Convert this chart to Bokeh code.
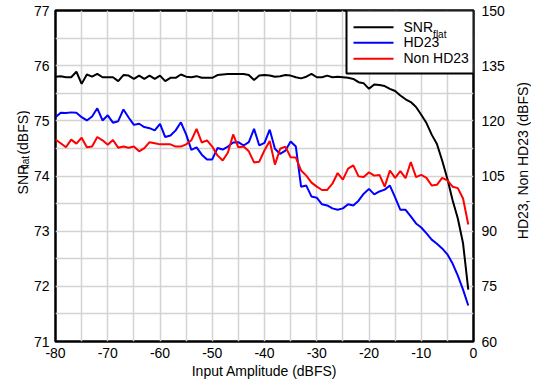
from math import pi

from bokeh.core.properties import value
from bokeh.embed import file_html
from bokeh.layouts import row
from bokeh.resources import INLINE
from bokeh.plotting import figure
from bokeh.models import Range1d, LinearAxis, FixedTicker, ColumnDataSource

# Input amplitude sweep (dBFS)
amplitude = list(range(-80, 0))

# SNR flat (dBFS), left axis
snr_flat = [
    75.80, 75.81, 75.79, 75.79, 75.89, 75.67, 75.84, 75.80, 75.85, 75.79,
    75.79, 75.79, 75.72, 75.83, 75.82, 75.76, 75.82, 75.76, 75.82, 75.76,
    75.82, 75.72, 75.78, 75.78, 75.84, 75.80, 75.79, 75.81, 75.78, 75.78,
    75.78, 75.83, 75.84, 75.85, 75.85, 75.85, 75.85, 75.83, 75.74, 75.82,
    75.83, 75.82, 75.80, 75.81, 75.83, 75.82, 75.79, 75.77, 75.80, 75.85,
    75.79, 75.79, 75.82, 75.79, 75.80, 75.79, 75.78, 75.76, 75.70, 75.68,
    75.58, 75.66, 75.65, 75.63, 75.58, 75.54, 75.46, 75.39, 75.34, 75.25,
    75.11, 74.96, 74.75, 74.58, 74.28, 73.95, 73.56, 73.23, 72.78, 71.94,
]

# HD23 (dBFS), right axis
hd23 = [
    121.0, 122.2, 122.1, 122.3, 122.2, 121.0, 120.1, 121.2, 123.4, 120.1,
    121.5, 119.5, 119.9, 123.1, 120.9, 118.9, 119.2, 118.3, 118.0, 117.4,
    119.2, 115.6, 116.0, 117.4, 119.6, 116.3, 112.1, 112.8, 110.8, 109.5,
    109.5, 112.6, 112.2, 113.0, 114.1, 114.2, 113.3, 114.2, 117.8, 113.3,
    114.0, 117.6, 112.4, 111.0, 111.9, 114.4, 113.0, 102.1, 102.4, 99.4,
    99.1, 97.3, 97.0, 96.2, 95.8, 96.2, 97.3, 97.0, 98.3, 100.2,
    101.5, 100.0, 100.8, 101.3, 102.4, 99.2, 95.8, 95.8, 94.0, 92.1,
    91.0, 89.4, 87.7, 86.6, 85.3, 83.7, 81.2, 77.9, 74.1, 69.8,
]

# Non HD23 (dBFS), right axis
non_hd23 = [
    114.9, 113.9, 112.8, 114.9, 113.8, 115.4, 112.8, 113.0, 115.6, 114.7,
    113.5, 114.8, 112.7, 113.0, 112.7, 113.0, 111.7, 112.6, 114.2, 113.9,
    113.6, 113.6, 113.6, 113.0, 113.0, 113.6, 114.7, 117.8, 114.1, 114.7,
    113.0, 110.6, 109.2, 111.4, 116.3, 112.8, 113.0, 111.7, 108.7, 108.9,
    112.0, 114.5, 108.1, 112.4, 113.0, 110.1, 110.0, 106.5, 105.1, 103.2,
    102.1, 101.2, 101.2, 102.9, 105.8, 104.0, 107.0, 107.9, 104.9, 104.7,
    106.0, 105.1, 105.3, 102.1, 106.5, 104.5, 106.3, 104.4, 108.8, 104.7,
    105.3, 104.5, 102.4, 102.6, 104.5, 103.8, 102.1, 101.7, 98.9, 91.8,
]

# Axis ticks and labels
x_ticks = [-80, -70, -60, -50, -40, -30, -20, -10, 0]
x_tick_labels = ["-80", "-70", "-60", "-50", "-40", "-30", "-20", "-10", "0"]
left_ticks = [71, 72, 73, 74, 75, 76, 77]
right_ticks = [60, 75, 90, 105, 120, 135, 150]

# Legend entries
legend_labels = ["SNR", "HD23", "Non HD23"]
legend_colors = ["black", "#0000ff", "#ff0000"]

FONT = "Liberation Sans"
H = 387
ROW_OFFSET = 2                      # the row sits a couple of pixels in from the page edge
LEFT_W, MAIN_W, RIGHT_W = 30, 479, 22

# frame geometry in page pixels
FX0, FX1, FY0, FY1 = 57, 475, 10, 341
X0, X1, Y0, Y1 = -80, 0, 71, 77


def title_strip(width):
    """Narrow figure whose data units are pixels, used for rotated axis titles."""
    f = figure(width=width, height=H, output_backend="svg", toolbar_location=None,
               x_range=Range1d(0, width), y_range=Range1d(0, H),
               x_axis_type=None, y_axis_type=None, min_border=0)
    f.outline_line_color = None
    f.grid.visible = False
    f.background_fill_color = "white"
    f.border_fill_color = "white"
    return f


src = ColumnDataSource(dict(x=amplitude, snr=snr_flat, hd=hd23, nhd=non_hd23))

main_left = ROW_OFFSET + LEFT_W
p = figure(width=MAIN_W, height=H, output_backend="svg", toolbar_location=None,
           x_range=Range1d(X0, X1), y_range=Range1d(Y0, Y1),
           min_border_left=FX0 - main_left,
           min_border_right=main_left + MAIN_W - FX1,
           min_border_top=FY0, min_border_bottom=H - FY1)
p.extra_y_ranges = {"hd": Range1d(60, 150)}

p.outline_line_color = "black"
p.outline_line_width = 2.5
p.background_fill_color = "white"
p.border_fill_color = "white"

# grid: 5 dB vertical, 0.5 dB horizontal
p.xgrid.ticker = FixedTicker(ticks=list(range(-80, 1, 5)))
p.ygrid.ticker = FixedTicker(ticks=[71 + 0.5 * i for i in range(13)])
for g in (p.xgrid, p.ygrid):
    g.grid_line_color = "#d3d3d3"
    g.grid_line_width = 1.5

right_axis = LinearAxis(y_range_name="hd")
p.add_layout(right_axis, "right")

p.xaxis.ticker = FixedTicker(ticks=x_ticks)
p.xaxis.major_label_overrides = dict(zip(x_ticks, x_tick_labels))
p.yaxis[0].ticker = FixedTicker(ticks=left_ticks)
right_axis.ticker = FixedTicker(ticks=right_ticks)

for ax in (p.xaxis[0], p.yaxis[0], right_axis):
    ax.axis_line_color = None
    ax.major_tick_line_color = None
    ax.minor_tick_line_color = None
    ax.major_tick_out = 0
    ax.major_tick_in = 0
    ax.minor_tick_out = 0
    ax.minor_tick_in = 0
    ax.major_label_text_font = FONT
    ax.major_label_text_font_size = "14px"
    ax.major_label_text_color = "black"
    ax.axis_label_text_font = FONT
    ax.axis_label_text_font_size = "14px"
    ax.axis_label_text_font_style = "normal"
    ax.axis_label_text_color = "black"

p.xaxis.major_label_standoff = 6
p.xaxis.axis_label = "Input Amplitude (dBFS)"
p.xaxis.axis_label_standoff = 2
p.yaxis[0].major_label_standoff = 6
right_axis.major_label_standoff = 8

p.line("x", "snr", source=src, line_color=legend_colors[0], line_width=2)
p.line("x", "hd", source=src, line_color=legend_colors[1], line_width=2, y_range_name="hd")
p.line("x", "nhd", source=src, line_color=legend_colors[2], line_width=2, y_range_name="hd")


# page pixel -> data helpers for the legend box in the top-right corner
def px_to_x(px):
    return X0 + (px - FX0) * (X1 - X0) / (FX1 - FX0)


def px_to_y(py):
    return Y1 - (py - FY0) * (Y1 - Y0) / (FY1 - FY0)


row_y = [26.7, 42.3, 58.3]
p.quad(left=[px_to_x(348)], right=[px_to_x(FX1)], top=[px_to_y(FY0)],
       bottom=[px_to_y(73)], fill_color="white", line_color="black", line_width=2)
p.segment(x0=[px_to_x(355)] * 3, x1=[px_to_x(395)] * 3,
          y0=[px_to_y(v) for v in row_y], y1=[px_to_y(v) for v in row_y],
          line_color=legend_colors, line_width=2)
p.text(x=[px_to_x(405)] * 3, y=[px_to_y(v - 0.5) for v in row_y], text=legend_labels,
       text_font=value(FONT), text_font_size="14px", text_color="black",
       text_align="left", text_baseline="middle")
p.text(x=[px_to_x(434.6)], y=[px_to_y(34)], text=["flat"], text_font=value(FONT),
       text_font_size="10px", text_color="black", text_align="left",
       text_baseline="alphabetic")

# left axis title: SNR with subscript "flat", rotated to read upward
left = title_strip(LEFT_W)
lx = 24 - ROW_OFFSET
left.text(x=[lx], y=[H - 215], text=["SNR"], angle=pi / 2, text_font=value(FONT),
          text_font_size="14px", text_color="black", text_align="left",
          text_baseline="alphabetic")
left.text(x=[lx + 3], y=[H - 185.6], text=["flat"], angle=pi / 2, text_font=value(FONT),
          text_font_size="10px", text_color="black", text_align="left",
          text_baseline="alphabetic")
left.text(x=[lx], y=[H - 168.5], text=["(dBFS)"], angle=pi / 2, text_font=value(FONT),
          text_font_size="14px", text_color="black", text_align="left",
          text_baseline="alphabetic")

# right axis title, rotated to read upward; baseline kept clear of the page edge
right = title_strip(RIGHT_W)
right_left = main_left + MAIN_W
right.text(x=[524 - right_left], y=[H - 175.5], text=["HD23, Non HD23 (dBFS)"],
           angle=pi / 2, text_font=value(FONT), text_font_size="14px",
           text_color="black", text_align="center", text_baseline="alphabetic")

layout = row(left, p, right, spacing=0)
open("out.html", "w").write(file_html(layout, INLINE))
